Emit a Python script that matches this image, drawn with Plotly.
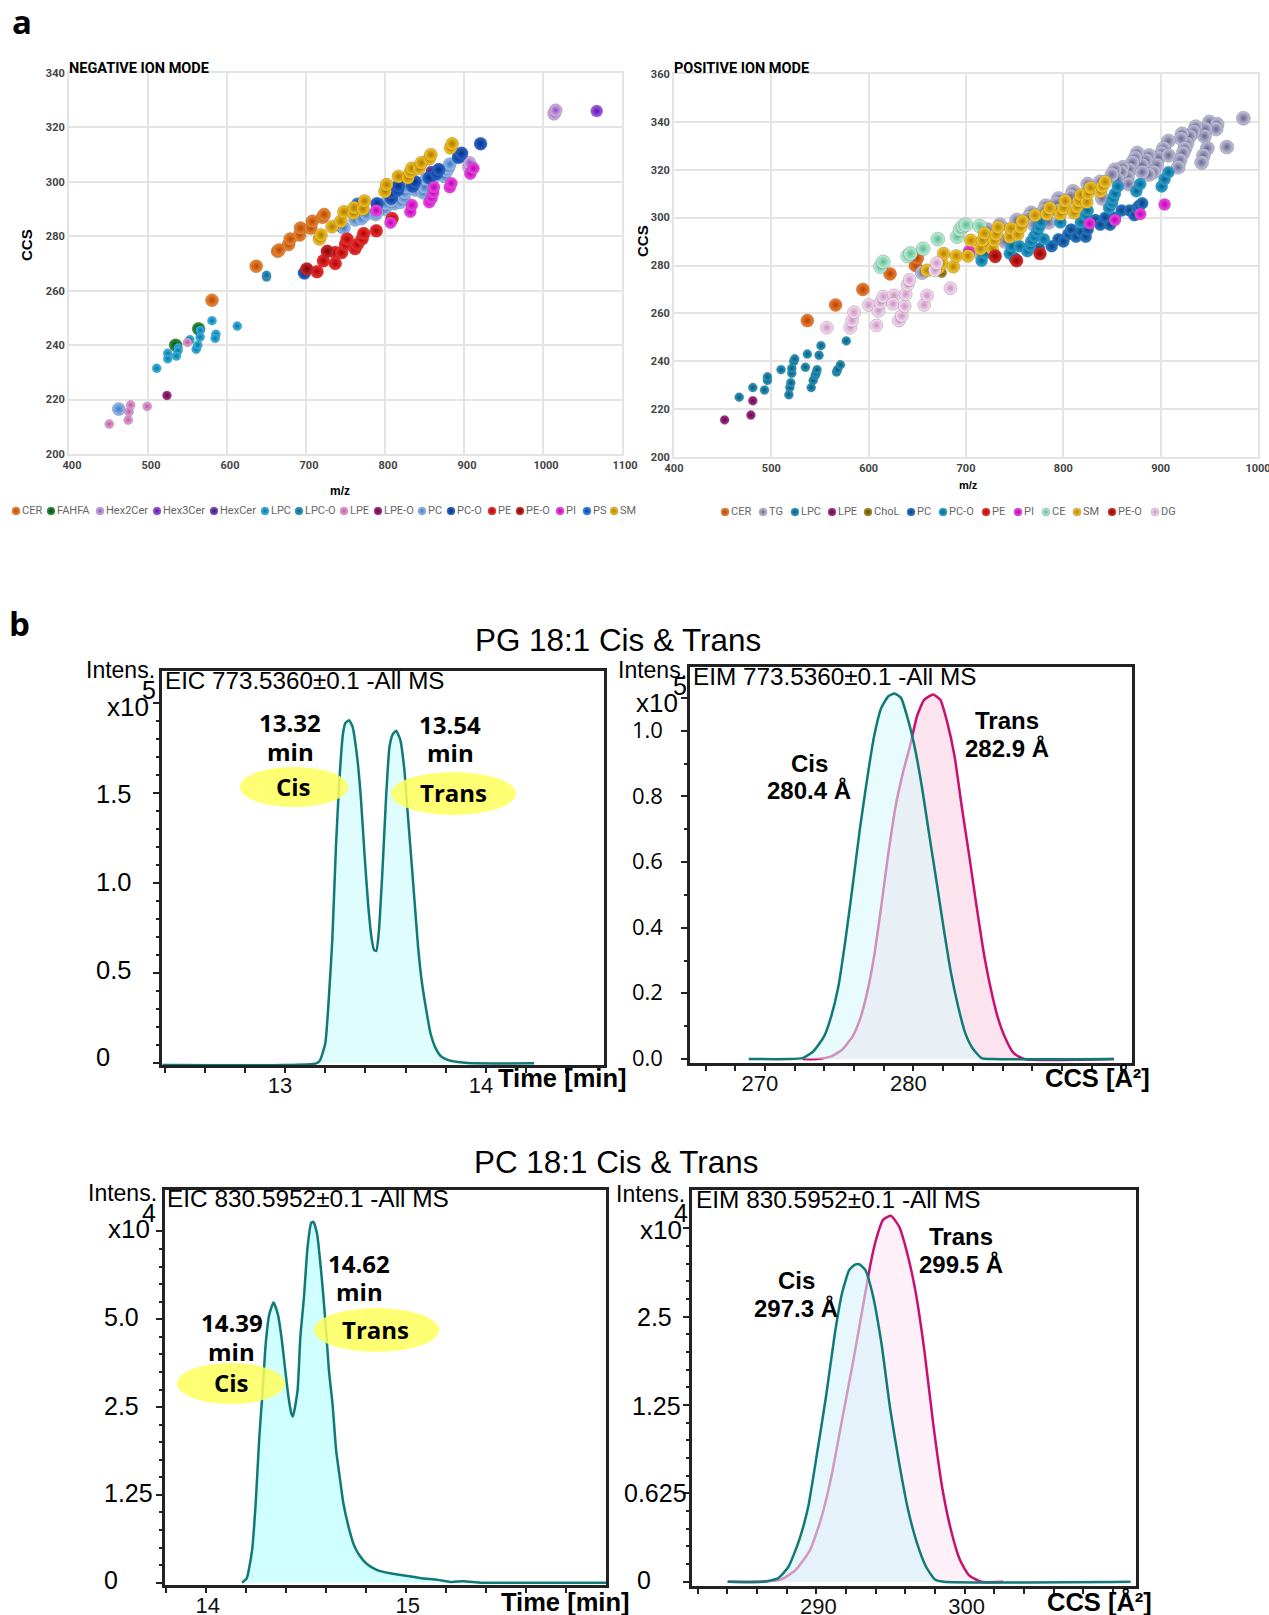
import plotly.graph_objects as go

W, H = 1269, 1615

# ---------- Panel a: negative ion mode ----------
neg_cer_mz = [581, 637, 664, 666, 678, 680, 692, 693, 706, 708, 721, 723]
neg_cer_ccs = [256.5, 269, 274.5, 275, 277, 279, 280.5, 283, 283, 285.5, 287, 288]
neg_fahfa_mz = [535, 564]
neg_fahfa_ccs = [240, 246]
neg_hex2_mz = [906, 907, 1014, 1016]
neg_hex2_ccs = [305.5, 307, 325, 326.3]
neg_hex3_mz = [1068]
neg_hex3_ccs = [326]
neg_hexc_mz = [745, 858]
neg_hexc_ccs = [283, 304]
neg_lpc_mz = [613, 581, 566, 586, 585, 553, 566, 561, 563, 538, 538, 525, 525, 536, 511]
neg_lpc_ccs = [247, 249, 245.5, 244, 242.5, 242, 243, 238.5, 240, 239, 238, 237, 235, 236, 231.5]
neg_lpco_mz = [650, 650]
neg_lpco_ccs = [265, 265.7]
neg_lpe_mz = [451, 475, 476, 478, 499, 550]
neg_lpe_ccs = [211, 212.5, 215.5, 218, 217.5, 241]
neg_lpeo_mz = [524]
neg_lpeo_ccs = [221.5]
neg_pc_mz = [463, 748, 762, 770, 776, 788, 800, 800, 812, 820, 824, 825, 828, 838, 848, 850, 852, 860, 875, 878, 880, 882, 790, 808]
neg_pc_ccs = [216.5, 283, 286, 286.5, 288, 288, 290, 292, 292, 292.5, 294, 296, 298, 297, 296, 298, 301, 301, 302, 304, 305, 306.5, 289, 293]
neg_pco_mz = [698, 790, 808, 808, 816, 817, 835, 838, 856, 865, 868, 893, 897, 921]
neg_pco_ccs = [266.5, 292, 294, 296, 297, 298.5, 298.5, 300, 301.5, 303, 304.5, 309, 310.5, 314]
neg_pe_mz = [714, 737, 722, 737, 745, 750, 752, 762, 765, 771, 773, 789, 809]
neg_pe_ccs = [267, 270, 271, 274, 274, 277, 279, 275.5, 277, 279, 281, 282, 286.5]
neg_peo_mz = [701, 727]
neg_peo_ccs = [268, 274.5]
neg_pi_mz = [789, 807, 832, 834, 856, 859, 861, 862, 882, 884, 908, 912]
neg_pi_ccs = [289.5, 285, 289, 291.5, 292.5, 294, 296, 298, 298, 299.5, 303, 305]
neg_ps_mz = [765]
neg_ps_ccs = [292]
neg_sm_mz = [717, 719, 733, 744, 748, 760, 761, 772, 774, 800, 802, 817, 829, 832, 834, 843, 846, 856, 858, 883, 885]
neg_sm_ccs = [279, 280.5, 283.5, 285.5, 289, 288.5, 290.5, 290, 293, 296.5, 299, 302, 301.5, 303.5, 305, 305, 307, 308.5, 310, 312.5, 314]

# ---------- Panel a: positive ion mode ----------
pos_cer_mz = [537, 566, 594, 622, 648, 650]
pos_cer_ccs = [257, 263.5, 270, 276.5, 280, 283]
pos_tg_mz = [985, 968, 950, 958, 957, 946, 945, 936, 934, 930, 927, 948, 944, 942, 922, 921, 925, 923, 920, 918,
             908, 903, 901, 898, 896, 893, 908, 888, 885, 881, 876, 874, 871, 868, 866, 861, 860, 856, 853, 850,
             867, 888, 881, 838, 825, 840, 810, 808, 795, 793, 782, 780, 767, 764, 752, 735, 722, 715, 740, 725,
             655, 795, 785, 770, 750]
pos_tg_ccs = [341.5, 329.5, 340, 339, 337, 337, 334, 338, 336, 334, 331, 329, 326, 323, 335, 333, 329, 327, 324, 321,
              332, 329, 327, 325, 322, 319, 326, 326, 324, 322, 327, 325, 323, 320, 317, 321, 319, 316, 320, 318,
              314, 318, 319, 315, 314, 308, 311, 309, 308, 306, 305, 303, 302, 300, 299, 297, 295, 285, 290, 288,
              277, 303, 298, 297, 295]
pos_lpc_mz = [467, 481, 493, 496, 496, 510, 518, 519, 520, 521, 521, 523, 524, 535, 537, 541, 543, 545, 546, 547, 549, 551, 567, 568, 571, 577, 580]
pos_lpc_ccs = [225, 229, 228, 232, 233.5, 236.5, 226, 229, 231, 235, 237, 240, 241, 237.5, 243, 229, 232, 234, 235, 236.5, 242.5, 246.5, 235.5, 236.5, 238.5, 248.5, 254]
pos_lpe_mz = [452, 479, 481]
pos_lpe_ccs = [215.5, 217.5, 223.5]
pos_chol_mz = [675]
pos_chol_ccs = [277]
pos_pc_mz = [750, 775, 788, 795, 800, 805, 808, 813, 818, 823, 825, 833, 838, 843, 848, 853, 860, 868, 873, 876, 878, 881]
pos_pc_ccs = [283, 287, 288, 291, 290, 293, 295, 292, 294, 292, 295, 299, 297, 300, 297, 300, 303, 303, 301, 304, 305, 306]
pos_pco_mz = [716, 720, 745, 747, 755, 763, 766, 767, 770, 773, 775, 777, 780, 797, 818, 823, 825, 847, 850, 851, 853, 856, 875, 879, 901, 904, 908]
pos_pco_ccs = [282, 285, 285, 288, 288, 286, 288, 290, 292, 294, 296, 298, 291, 298, 298, 301, 303, 304, 306, 308, 310, 313, 311, 314, 313, 316, 319]
pos_pe_mz = [730]
pos_pe_ccs = [283.5]
pos_pi_mz = [703, 827, 853, 879, 904]
pos_pi_ccs = [286, 297.5, 299, 301.5, 305.5]
pos_ce_mz = [612, 615, 640, 643, 656, 671, 691, 694, 697, 700, 714]
pos_ce_ccs = [279.5, 281.5, 284, 285, 287, 291, 292, 295, 296.5, 297, 296.5]
pos_sm_mz = [660, 672, 675, 677, 687, 690, 702, 705, 715, 717, 719, 727, 729, 731, 733, 745, 746, 753, 756, 758, 771, 783, 786, 797, 800, 802, 811, 814, 816, 818, 824, 825, 828, 838, 840, 843]
pos_sm_ccs = [278, 279, 281, 285, 279.5, 284, 284, 290.5, 287, 290.5, 293.5, 287, 290.5, 293, 296, 292, 295.5, 293, 296, 298.5, 301, 301.5, 304, 301.5, 304, 307, 302, 304.5, 307, 309.5, 306.5, 310, 312.5, 311, 313, 315]
pos_peo_mz = [730, 752, 776]
pos_peo_ccs = [284, 282, 285]
pos_dg_mz = [557, 581, 583, 585, 600, 608, 610, 612, 615, 626, 625, 631, 634, 637, 638, 640, 642, 657, 660, 668, 670, 684]
pos_dg_ccs = [254, 254, 257, 260.5, 263.5, 255, 261, 264.5, 267, 267.5, 264, 257, 259, 263, 268, 272, 274, 263.5, 267.5, 278, 281, 270.5]

# ---------- Panel b: traces ----------
eic1_time = [12.39, 13.0, 13.155, 13.173, 13.2, 13.217, 13.235, 13.253, 13.27, 13.288, 13.30, 13.318, 13.336, 13.359, 13.377, 13.395, 13.413, 13.43, 13.443, 13.454, 13.466, 13.484, 13.502, 13.52, 13.537, 13.553, 13.573, 13.594, 13.608, 13.626, 13.644, 13.662, 13.68, 13.70, 13.724, 13.75, 13.778, 13.813, 13.884, 13.94, 14.24]
eic1_int = [-0.01, -0.01, 0, 0.015, 0.11, 0.35, 0.685, 1.2, 1.57, 1.83, 1.89, 1.907, 1.87, 1.70, 1.48, 1.17, 0.89, 0.70, 0.63, 0.624, 0.72, 1.055, 1.46, 1.76, 1.83, 1.848, 1.80, 1.63, 1.425, 1.17, 0.91, 0.65, 0.46, 0.315, 0.167, 0.083, 0.037, 0.018, 0.004, 0, 0]

eim1_cis_ccs = [268.9, 271.57, 272.53, 273.25, 273.98, 274.46, 274.94, 275.42, 275.9, 276.39, 276.87, 277.35, 277.83, 278.31, 278.72, 279.16, 279.64, 280.12, 280.6, 281.08, 281.57, 282.05, 282.53, 283.01, 283.49, 283.98, 284.58, 285.3, 293.5]
eim1_cis_int = [0, 0, 0.003, 0.023, 0.069, 0.13, 0.22, 0.363, 0.526, 0.70, 0.85, 0.983, 1.069, 1.105, 1.113, 1.10, 1.033, 0.942, 0.82, 0.678, 0.536, 0.394, 0.262, 0.16, 0.079, 0.033, 0.003, 0, 0]
eim1_trans_ccs = [272.53, 273.49, 274.46, 275.18, 275.9, 276.39, 276.87, 277.35, 277.83, 278.31, 278.8, 279.28, 279.76, 280.24, 280.72, 281.33, 281.81, 282.29, 282.77, 283.25, 283.73, 284.22, 284.7, 285.18, 285.66, 286.14, 286.75, 287.47, 293.5]
eim1_trans_int = [0, 0, 0.008, 0.028, 0.069, 0.12, 0.20, 0.313, 0.465, 0.627, 0.77, 0.87, 0.952, 1.044, 1.094, 1.11, 1.094, 1.023, 0.922, 0.77, 0.627, 0.475, 0.333, 0.22, 0.13, 0.069, 0.018, 0, 0]

eic2_time = [14.182, 14.205, 14.232, 14.25, 14.268, 14.286, 14.3, 14.318, 14.339, 14.361, 14.379, 14.396, 14.414, 14.429, 14.436, 14.459, 14.473, 14.491, 14.509, 14.527, 14.539, 14.557, 14.58, 14.598, 14.616, 14.634, 14.652, 14.67, 14.688, 14.714, 14.741, 14.768, 14.804, 14.857, 14.929, 15.0, 15.07, 15.16, 15.23, 15.286, 15.375, 15.5, 15.73, 16.0]
eic2_int = [0, 0.06, 0.46, 1.13, 2.07, 2.78, 3.4, 3.82, 3.988, 3.82, 3.49, 3.07, 2.64, 2.40, 2.365, 2.73, 3.49, 4.06, 4.77, 5.12, 5.137, 4.96, 4.34, 3.73, 3.02, 2.54, 1.88, 1.50, 1.13, 0.795, 0.535, 0.39, 0.27, 0.18, 0.13, 0.10, 0.066, 0.04, 0.01, 0.02, 0, 0, 0, 0]

eim2_cis_ccs = [284.02, 286.43, 287.4, 288.12, 288.84, 289.45, 290.05, 290.65, 291.25, 291.73, 292.22, 292.58, 292.89, 293.3, 293.78, 294.39, 294.99, 295.59, 296.19, 296.8, 297.4, 298.0, 298.6, 311.2]
eim2_cis_int = [0, 0, 0.024, 0.106, 0.295, 0.53, 0.91, 1.31, 1.757, 2.04, 2.205, 2.24, 2.245, 2.205, 2.04, 1.686, 1.215, 0.837, 0.507, 0.27, 0.106, 0.016, 0, 0]
eim2_trans_ccs = [284.02, 286.2, 287.64, 288.6, 289.57, 290.29, 291.01, 291.73, 292.46, 293.18, 293.66, 294.02, 294.51, 295.04, 295.59, 296.07, 296.67, 297.28, 297.88, 298.48, 299.08, 299.69, 300.29, 301.13, 302.6]
eim2_trans_int = [0, 0, 0.017, 0.083, 0.224, 0.436, 0.743, 1.144, 1.545, 1.97, 2.25, 2.417, 2.56, 2.587, 2.51, 2.347, 2.064, 1.64, 1.12, 0.672, 0.366, 0.153, 0.047, 0, 0]

# ---------- names and palette ----------
neg_names = ["CER", "FAHFA", "Hex2Cer", "Hex3Cer", "HexCer", "LPC", "LPC-O", "LPE", "LPE-O", "PC", "PC-O", "PE", "PE-O", "PI", "PS", "SM"]
pos_names = ["CER", "TG", "LPC", "LPE", "ChoL", "PC", "PC-O", "PE", "PI", "CE", "SM", "PE-O", "DG"]

neg_legend_px = [16, 51, 100, 157, 214, 265, 299, 344, 378, 422, 451, 492, 520, 560, 587, 614]
pos_legend_px = [725, 763, 795, 832, 868, 911, 943, 986, 1018, 1046, 1077, 1112, 1155]

# face colour, rim colour, size
NEG_STYLE = {
    "CER": ("#f58a30", "#b04a05", 13), "FAHFA": ("#2f9a3f", "#043f10", 13),
    "Hex2Cer": ("#dcb8ee", "#8a52b8", 13), "Hex3Cer": ("#a860ec", "#5a10a8", 12),
    "HexCer": ("#8350c0", "#3a1578", 10), "LPC": ("#35c0ee", "#08709f", 9),
    "LPC-O": ("#2fa4d0", "#145f80", 9), "LPE": ("#f0a8e0", "#b55aa0", 9),
    "LPE-O": ("#b03090", "#5e0446", 9), "PC": ("#9cc2f4", "#3f76c0", 13),
    "PC-O": ("#2668d8", "#072f80", 13), "PE": ("#fa3030", "#a80505", 13),
    "PE-O": ("#d82828", "#780505", 13), "PI": ("#fa48f2", "#b805ac", 12),
    "PS": ("#3488f0", "#0644a8", 12), "SM": ("#fcc820", "#a87800", 13),
}
POS_STYLE = {
    "CER": ("#f58030", "#b04205", 13), "TG": ("#c8c8e2", "#66668f", 14),
    "LPC": ("#28a0c8", "#075678", 9), "LPE": ("#b03090", "#5e0446", 9),
    "ChoL": ("#b09020", "#5e4800", 10), "PC": ("#2880d0", "#073f80", 12),
    "PC-O": ("#28aadc", "#076088", 12), "PE": ("#fa3030", "#a80505", 12),
    "PI": ("#fa48f2", "#b805ac", 12), "CE": ("#c0f4dc", "#5fb890", 14),
    "SM": ("#fccc30", "#b08000", 13), "PE-O": ("#e02828", "#880505", 13),
    "DG": ("#fae4f6", "#c890c0", 13),
}

neg_series = [(neg_cer_mz, neg_cer_ccs), (neg_fahfa_mz, neg_fahfa_ccs), (neg_hex2_mz, neg_hex2_ccs), (neg_hex3_mz, neg_hex3_ccs),
              (neg_hexc_mz, neg_hexc_ccs), (neg_lpc_mz, neg_lpc_ccs), (neg_lpco_mz, neg_lpco_ccs), (neg_lpe_mz, neg_lpe_ccs),
              (neg_lpeo_mz, neg_lpeo_ccs), (neg_pc_mz, neg_pc_ccs), (neg_pco_mz, neg_pco_ccs), (neg_pe_mz, neg_pe_ccs),
              (neg_peo_mz, neg_peo_ccs), (neg_pi_mz, neg_pi_ccs), (neg_ps_mz, neg_ps_ccs), (neg_sm_mz, neg_sm_ccs)]
pos_series = [(pos_cer_mz, pos_cer_ccs), (pos_tg_mz, pos_tg_ccs), (pos_lpc_mz, pos_lpc_ccs), (pos_lpe_mz, pos_lpe_ccs),
              (pos_chol_mz, pos_chol_ccs), (pos_pc_mz, pos_pc_ccs), (pos_pco_mz, pos_pco_ccs), (pos_pe_mz, pos_pe_ccs),
              (pos_pi_mz, pos_pi_ccs), (pos_ce_mz, pos_ce_ccs), (pos_sm_mz, pos_sm_ccs), (pos_peo_mz, pos_peo_ccs), (pos_dg_mz, pos_dg_ccs)]

NARROW = "Liberation Sans Narrow, Roboto, sans-serif"
ARIAL = "Liberation Sans, Arial, sans-serif"
OPEN = "Open Sans, sans-serif"
TEAL = "#0f7a78"
MAGENTA = "#c8106e"


def fx(px):
    return px / W


def fy(py):
    return 1 - py / H


fig = go.Figure()


def add_balls(names, series, style, xa, ya):
    for name, (mz, ccs) in zip(names, series):
        face, rim, size = style[name]
        fig.add_trace(go.Scatter(
            x=mz, y=ccs, mode="markers", name=name, xaxis=xa, yaxis=ya,
            marker=dict(size=size, color=face, gradient=dict(type="radial", color=rim),
                        line=dict(width=0.5, color="rgba(60,60,60,0.5)")),
        ))


add_balls(neg_names, neg_series, NEG_STYLE, "x", "y")
add_balls(pos_names, pos_series, POS_STYLE, "x2", "y2")


def add_curve(x, y, xa, ya, line, fill, width=2.5):
    fig.add_trace(go.Scatter(
        x=x, y=y, mode="lines", xaxis=xa, yaxis=ya, fill="tozeroy", fillcolor=fill,
        line=dict(color=line, width=width, shape="spline", smoothing=0.5),
    ))


add_curve(eic1_time, eic1_int, "x3", "y3", TEAL, "#dffdfd")
add_curve(eim1_trans_ccs, eim1_trans_int, "x4", "y4", MAGENTA, "#fce4ef")
add_curve(eim1_cis_ccs, eim1_cis_int, "x4", "y4", TEAL, "rgba(215,250,252,0.55)")
add_curve(eic2_time, eic2_int, "x5", "y5", TEAL, "#cfffff")
add_curve(eim2_trans_ccs, eim2_trans_int, "x6", "y6", MAGENTA, "#fdf0f8")
add_curve(eim2_cis_ccs, eim2_cis_int, "x6", "y6", TEAL, "rgba(215,243,250,0.6)")

# legend strips: one marker row on a full-page helper axis
legend_names = neg_names + pos_names
legend_px = neg_legend_px + pos_legend_px
legend_row = [511] * len(neg_names) + [512] * len(pos_names)
legend_faces = [NEG_STYLE[n][0] for n in neg_names] + [POS_STYLE[n][0] for n in pos_names]
legend_rims = [NEG_STYLE[n][1] for n in neg_names] + [POS_STYLE[n][1] for n in pos_names]
fig.add_trace(go.Scatter(
    x=legend_px, y=legend_row, mode="markers+text", text=legend_names, textposition="middle right",
    textfont=dict(family=NARROW, size=11, color="#666666"), xaxis="x7", yaxis="y7",
    marker=dict(size=8, color=legend_faces, gradient=dict(type="radial", color=legend_rims),
                line=dict(width=0.5, color="rgba(70,70,70,0.5)")),
))

layout = dict(
    width=W, height=H, margin=dict(l=0, r=0, t=0, b=0, autoexpand=False), showlegend=False,
    plot_bgcolor="rgba(0,0,0,0)", paper_bgcolor="white", font=dict(family=ARIAL, color="black"),
)


def scatter_axes(key, left, right, top, bottom, xr, yr, dx, dy, shift):
    xk, yk = "xaxis" + key, "yaxis" + key
    anchor_x = "x" + key
    anchor_y = "y" + key
    common = dict(showgrid=True, gridcolor="#e4e4e4", gridwidth=2, zeroline=False,
                  showline=True, linecolor="#e4e4e4", linewidth=2, mirror=True, ticks="",
                  ticklabeloverflow="allow",
                  tickfont=dict(family=NARROW, size=11, color="#444444", weight=700))
    layout[xk] = dict(domain=[fx(left), fx(right)], range=xr, anchor=anchor_y, dtick=dx, ticklabelshift=shift, **common)
    layout[yk] = dict(domain=[fy(bottom), fy(top)], range=yr, anchor=anchor_x, dtick=dy, **common)


scatter_axes("", 69, 622, 73, 454, [400, 1100], [200, 340], 100, 20, 3)
scatter_axes("2", 674, 1258, 74, 457, [400, 1000], [200, 360], 100, 20, 0)


def trace_axes(key, left, right, top, bottom, xr, yr, xticks, xlabels, ymajor, yminor, label_shift):
    xk, yk = "xaxis" + key, "yaxis" + key
    common = dict(showgrid=False, zeroline=False, showline=True, linecolor="#222222", linewidth=2.5,
                  mirror=True, ticks="outside", tickcolor="#222222")
    layout[xk] = dict(domain=[fx(left), fx(right)], range=xr, anchor="y" + key, tickmode="array",
                      tickvals=xticks, ticktext=xlabels, ticklen=5, tickwidth=1.5, ticklabelshift=label_shift,
                      tickfont=dict(family=ARIAL, size=22, color="#111111"), ticklabelstandoff=-6, **common)
    layout[yk] = dict(domain=[fy(bottom), fy(top)], range=yr, anchor="x" + key, tickmode="array",
                      tickvals=ymajor, showticklabels=False, ticklen=6, tickwidth=1.5,
                      minor=dict(tickmode="array", tickvals=yminor, ticks="outside", ticklen=3, tickwidth=1.5, tickcolor="#222222"),
                      **common)


def steps(start, step, count):
    return [round(start + i * step, 4) for i in range(count)]


t1 = steps(12.4, 0.2, 11)
trace_axes("3", 162, 604, 671, 1065, [12.387, 14.588], [-0.0094, 2.18],
           t1, ["13" if abs(v - 13) < 1e-6 else "14" if abs(v - 14) < 1e-6 else "" for v in t1],
           [0, 0.5, 1.0, 1.5, 2.0], steps(0, 0.1, 21), -5)
c1 = steps(266, 2, 15)
trace_axes("4", 690, 1132, 667, 1063, [264.95, 294.72], [-0.012, 1.194],
           c1, ["270" if v == 270 else "280" if v == 280 else "" for v in c1],
           [0, 0.2, 0.4, 0.6, 0.8, 1.0, 1.1], steps(0, 0.1, 11), -5)
t2 = steps(13.8, 0.2, 11)
trace_axes("5", 165, 606, 1190, 1585, [13.797, 16.0], [-0.033, 5.59],
           t2, ["14" if abs(v - 14) < 1e-6 else "15" if abs(v - 15) < 1e-6 else "" for v in t2],
           [0, 1.25, 2.5, 3.75, 5.0], steps(0, 0.25, 21), 2)
c2 = steps(282, 2, 15)
trace_axes("6", 692, 1135.5, 1190, 1586, [281.61, 311.53], [-0.03, 2.77],
           c2, ["290" if v == 290 else "300" if v == 300 else "" for v in c2],
           [0, 0.625, 1.25, 1.875, 2.5], steps(0, 0.125, 21), 2)

layout["xaxis7"] = dict(domain=[0, 1], range=[0, W], visible=False, anchor="y7")
layout["yaxis7"] = dict(domain=[0, 1], range=[H, 0], visible=False, anchor="x7")

annotations = []


def note(text, x, y, size, family=ARIAL, bold=False, anchor="center", color="black", angle=0):
    annotations.append(dict(
        text=f"<b>{text}</b>" if bold else text, x=fx(x), y=fy(y), xref="paper", yref="paper",
        xanchor=anchor, yanchor="middle", showarrow=False, textangle=angle,
        font=dict(family=family, size=size, color=color),
    ))


note("a", 10, 22, 33, OPEN, True, "left")
note("b", 7, 623, 33, OPEN, True, "left")
note("NEGATIVE ION MODE", 67, 68, 14.5, NARROW, True, "left")
note("POSITIVE ION MODE", 672, 68, 14.5, NARROW, True, "left")
note("m/z", 340, 491, 12, ARIAL, True)
note("m/z", 968, 485, 11, ARIAL, True)
note("CCS", 27, 245, 15, ARIAL, True, angle=-90)
note("CCS", 642, 241, 15, ARIAL, True, angle=-90)

note("PG 18:1 Cis &amp; Trans", 618, 640, 31.4)
note("PC 18:1 Cis &amp; Trans", 616, 1162, 31.4)

note("EIC 773.5360±0.1 -All MS", 163, 681, 24.2, anchor="left")
note("EIM 773.5360±0.1 -All MS", 691, 676, 24.3, anchor="left")
note("EIC 830.5952±0.1 -All MS", 165, 1198, 24.4, anchor="left")
note("EIM 830.5952±0.1 -All MS", 694, 1199, 24.4, anchor="left")

for x, y in [(84, 670), (616, 670), (86, 1193), (614, 1194)]:
    note("Intens.", x, y, 23, anchor="left")
for x, y in [(151, 707), (680, 703), (152, 1229), (684, 1230)]:
    note("x10", x, y, 26, anchor="right")
for txt, x, y in [("5", 149, 690), ("5", 680, 686), ("4", 149, 1213), ("4", 681, 1213)]:
    note(txt, x, y, 25)

for x, y in [(496, 1078), (499, 1602)]:
    note("Time [min]", x, y, 25.5, bold=True, anchor="left")
for x, y in [(1043, 1078), (1045, 1602)]:
    note("CCS [Å²]", x, y, 25.5, bold=True, anchor="left")

# hand-placed left-aligned y tick labels
for txt, x, y in [("1.5", 94, 794), ("1.0", 94, 882), ("0.5", 94, 970), ("0", 94, 1057)]:
    note(txt, x, y, 25.5, anchor="left")
for txt, y in [("1.0", 729), ("0.8", 795), ("0.6", 860), ("0.4", 926), ("0.2", 991), ("0.0", 1057)]:
    note(txt, 630, y, 22, OPEN, anchor="left")
for txt, y in [("5.0", 1317), ("2.5", 1406), ("1.25", 1493), ("0", 1580)]:
    note(txt, 102, y, 25, anchor="left")
for txt, x, y in [("2.5", 635, 1317), ("1.25", 630, 1406), ("0.625", 622, 1493), ("0", 635, 1580)]:
    note(txt, x, y, 25, anchor="left")

for a, b, x, y1, y2 in [("13.32", "min", 290, 723, 752), ("13.54", "min", 450, 724, 753),
                        ("14.39", "min", 232, 1322, 1351), ("14.62", "min", 359, 1263, 1291)]:
    note(a, x, y1, 24, OPEN, True)
    note(b, x, y2, 24, OPEN, True)
for txt, x, y in [("Cis", 293, 786), ("Trans", 453, 792), ("Cis", 231, 1382), ("Trans", 375, 1329)]:
    note(txt, x, y, 24, OPEN, True)
for a, b, x, y1, y2 in [("Cis", "280.4 Å", 809, 763, 790), ("Trans", "282.9 Å", 1007, 720, 748),
                        ("Cis", "297.3 Å", 796, 1280, 1308), ("Trans", "299.5 Å", 961, 1236, 1264)]:
    note(a, x, y1, 24, ARIAL, True)
    note(b, x, y2, 24, ARIAL, True)

layout["annotations"] = annotations

shapes = []
for x0, x1, y0, y1 in [(240, 348, 767, 807), (391, 516, 772, 815), (177, 285, 1363, 1404), (314, 439, 1308, 1352)]:
    shapes.append(dict(type="circle", xref="paper", yref="paper", x0=fx(x0), x1=fx(x1), y0=fy(y1), y1=fy(y0),
                       fillcolor="rgba(255,255,90,0.85)", line=dict(width=0), layer="above"))
layout["shapes"] = shapes

fig.update_layout(**layout)
fig.write_html("out.html", config={"displayModeBar": False},
               post_script="document.body.style.margin='0';document.documentElement.style.overflow='hidden';")
